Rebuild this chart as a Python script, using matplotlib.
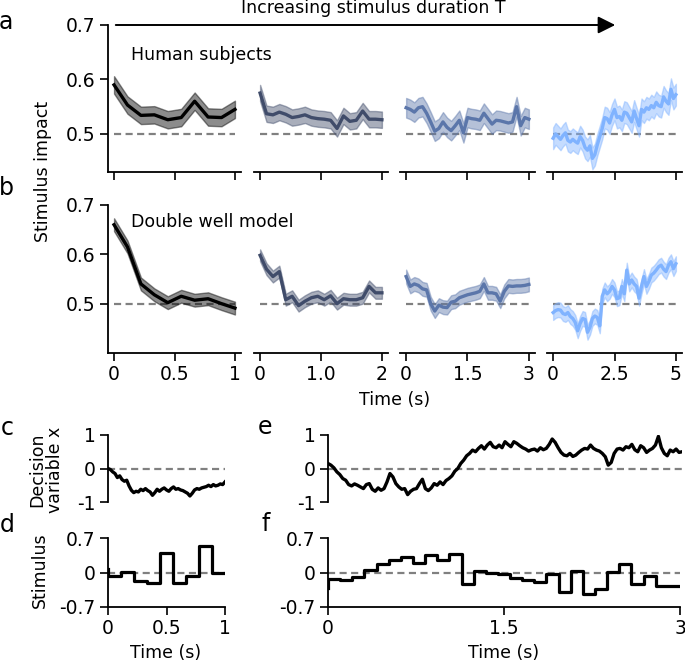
import numpy as np
import matplotlib.pyplot as plt

# stimulus durations T (s) for the four columns
durations = [1, 2, 3, 5]
line_colors = ['#000000', '#404c6a', '#5b76aa', '#80b3ff']
xtick_labels = [['0', '0.5', '1'], ['0', '1.0', '2'], ['0', '1.5', '3'], ['0', '2.5', '5']]

# panel a: human subjects, stimulus impact
human_T1 = [0.590, 0.553, 0.534, 0.535, 0.526, 0.530, 0.560, 0.531, 0.530, 0.545]
human_T2 = [0.575, 0.537, 0.535, 0.540, 0.536, 0.530, 0.532, 0.535, 0.530, 0.528,
            0.527, 0.525, 0.510, 0.533, 0.523, 0.525, 0.542, 0.527, 0.527, 0.526]
human_T3 = [0.548, 0.545, 0.540, 0.548, 0.550, 0.538, 0.522, 0.505, 0.510, 0.522,
            0.512, 0.506, 0.515, 0.525, 0.502, 0.530, 0.528, 0.527, 0.525, 0.538,
            0.528, 0.518, 0.525, 0.524, 0.522, 0.520, 0.522, 0.550, 0.515, 0.530, 0.527]
human_T5 = [0.492, 0.500, 0.495, 0.490, 0.497, 0.502, 0.488, 0.485, 0.490, 0.486,
            0.483, 0.495, 0.488, 0.475, 0.470, 0.478, 0.455, 0.462, 0.480, 0.495,
            0.510, 0.530, 0.528, 0.520, 0.535, 0.545, 0.530, 0.532, 0.525, 0.540,
            0.538, 0.530, 0.522, 0.542, 0.528, 0.515, 0.545, 0.540, 0.548, 0.545,
            0.552, 0.548, 0.558, 0.552, 0.550, 0.568, 0.560, 0.555, 0.582, 0.565, 0.572]
human_sem = [0.016, 0.015, 0.018, 0.020]

# panel b: double well model
model_T1 = [0.660, 0.615, 0.540, 0.518, 0.502, 0.515, 0.507, 0.510, 0.500, 0.491]
model_T2 = [0.598, 0.570, 0.555, 0.565, 0.508, 0.515, 0.496, 0.505, 0.512, 0.515,
            0.508, 0.516, 0.500, 0.510, 0.508, 0.508, 0.512, 0.535, 0.522, 0.522]
model_T3 = [0.555, 0.535, 0.540, 0.537, 0.530, 0.528, 0.500, 0.485, 0.497, 0.493,
            0.492, 0.503, 0.505, 0.512, 0.515, 0.518, 0.520, 0.522, 0.525, 0.540,
            0.522, 0.522, 0.520, 0.505, 0.525, 0.536, 0.535, 0.536, 0.536, 0.537, 0.539]
model_T5 = [0.482, 0.486, 0.488, 0.487, 0.480, 0.478, 0.482, 0.474, 0.470, 0.462,
            0.445, 0.460, 0.470, 0.468, 0.442, 0.452, 0.470, 0.475, 0.472, 0.455,
            0.515, 0.528, 0.520, 0.525, 0.535, 0.528, 0.510, 0.512, 0.535, 0.520,
            0.568, 0.540, 0.548, 0.540, 0.535, 0.511, 0.535, 0.555, 0.535, 0.545,
            0.558, 0.562, 0.568, 0.575, 0.578, 0.570, 0.565, 0.578, 0.585, 0.571, 0.581]
model_sem = [0.013, 0.012, 0.014, 0.015]

# panels c, e: decision variable trajectories
dv_short = [0.00, -0.03, -0.10, -0.15, -0.27, -0.22, -0.33, -0.38, -0.35, -0.52,
            -0.65, -0.72, -0.68, -0.70, -0.62, -0.66, -0.60, -0.66, -0.70, -0.80,
            -0.72, -0.62, -0.68, -0.62, -0.58, -0.64, -0.68, -0.60, -0.55, -0.62,
            -0.60, -0.64, -0.66, -0.70, -0.74, -0.82, -0.74, -0.64, -0.60, -0.62,
            -0.58, -0.56, -0.54, -0.50, -0.54, -0.48, -0.52, -0.50, -0.46, -0.48, -0.40]
dv_long = [0.15, 0.10, 0.02, -0.10, -0.18, -0.30, -0.35, -0.48, -0.52, -0.46,
           -0.50, -0.55, -0.60, -0.48, -0.45, -0.62, -0.68, -0.58, -0.65, -0.60,
           -0.40, -0.15, -0.25, -0.45, -0.55, -0.62, -0.60, -0.78, -0.68, -0.62,
           -0.60, -0.45, -0.32, -0.60, -0.66, -0.58, -0.45, -0.50, -0.40, -0.48,
           -0.36, -0.30, -0.22, -0.08, 0.00, 0.15, 0.25, 0.38, 0.45, 0.55,
           0.50, 0.60, 0.68, 0.58, 0.70, 0.78, 0.65, 0.62, 0.70, 0.62,
           0.80, 0.72, 0.65, 0.80, 0.75, 0.68, 0.62, 0.58, 0.52, 0.56,
           0.58, 0.52, 0.62, 0.56, 0.60, 0.72, 0.88, 0.78, 0.62, 0.48,
           0.40, 0.38, 0.45, 0.36, 0.40, 0.48, 0.55, 0.60, 0.58, 0.70,
           0.60, 0.55, 0.52, 0.45, 0.35, 0.10, 0.18, 0.45, 0.58, 0.60,
           0.55, 0.65, 0.62, 0.72, 0.56, 0.50, 0.68, 0.62, 0.48, 0.55,
           0.60, 0.70, 0.96, 0.62, 0.45, 0.38, 0.55, 0.50, 0.58, 0.48, 0.50]

# panels d, f: piecewise constant stimulus (first value = level just before t=0)
stim_short = [0.07, -0.08, 0.01, -0.17, -0.21, 0.39, -0.22, -0.08, 0.54, -0.01]
stim_long = [-0.32, -0.13, -0.16, -0.10, 0.05, 0.18, 0.25, 0.32, 0.20, 0.36, 0.25,
             0.37, -0.23, 0.04, -0.01, -0.03, -0.12, -0.15, -0.19, -0.04, -0.39,
             0.04, -0.43, -0.34, 0.01, 0.18, -0.23, -0.08, -0.27, -0.27]

W, H = 685, 662
fig = plt.figure(figsize=(W / 100, H / 100), dpi=100)
plt.rcParams['font.size'] = 12.5


def px_box(x0, y0, x1, y1):
    return [x0 / W, 1 - y1 / H, (x1 - x0) / W, (y1 - y0) / H]


col_px = [(108, 241), (254, 388), (400, 535), (547, 682)]


def impact_row(series, sems, y0, y1, ylo, show_labels):
    axes = []
    for i, T in enumerate(durations):
        ax = fig.add_axes(px_box(col_px[i][0], y0, col_px[i][1], y1))
        v = np.array(series[i])
        t = np.linspace(0, T, len(v))
        ax.plot([0, T], [0.5, 0.5], color='#808080', lw=1.6, ls=(0, (3.2, 2)), zorder=1)
        ax.fill_between(t, v - sems[i], v + sems[i], color=line_colors[i], alpha=0.45, lw=1, zorder=2)
        ax.plot(t, v, color=line_colors[i], lw=2.4, zorder=3)
        ax.set_xlim(-0.05 * T, 1.05 * T)
        ax.set_ylim(ylo, 0.7)
        ax.set_xticks([0, T / 2, T])
        if show_labels:
            ax.set_xticklabels(xtick_labels[i], fontsize=13.5)
        else:
            ax.set_xticklabels([])
        for s in ['top', 'right']:
            ax.spines[s].set_visible(False)
        if i == 0:
            ax.set_yticks([0.5, 0.6, 0.7])
            ax.set_yticklabels(['0.5', '0.6', '0.7'], fontsize=13.5)
        else:
            ax.spines['left'].set_visible(False)
            ax.set_yticks([])
        ax.tick_params(length=5.5, width=1.2)
        for s in ax.spines.values():
            s.set_linewidth(1.3)
        axes.append(ax)
    return axes


row_a = impact_row([human_T1, human_T2, human_T3, human_T5], human_sem, 25, 172, 0.43, False)
row_b = impact_row([model_T1, model_T2, model_T3, model_T5], model_sem, 205, 353, 0.40, True)
fig.text(131 / W, 1 - 55 / H, 'Human subjects', va='center', ha='left')
fig.text(131 / W, 1 - 222 / H, 'Double well model', va='center', ha='left')
fig.text(395 / W, 1 - 400 / H, 'Time (s)', ha='center', va='center')
fig.text(43 / W, 1 - 171 / H, 'Stimulus impact', rotation=90, ha='center', va='center')

# arrow over the top row
fig.text(373 / W, 1 - 13 / H, 'Increasing stimulus duration T', ha='center', va='baseline')
fig.add_artist(plt.matplotlib.patches.FancyArrowPatch(
    (113 / W, 1 - 25 / H), (618 / W, 1 - 25 / H), transform=fig.transFigure,
    arrowstyle='-|>', mutation_scale=26, lw=1.4, color='k'))


def trace_axes(box, T, y, ylim, yticks, yticklabels, step, xlabels):
    ax = fig.add_axes(px_box(*box))
    ax.plot([0, T], [0, 0], color='#808080', lw=1.6, ls=(0, (3.2, 2)), zorder=1)
    if step:
        n = len(y) - 1
        t = np.concatenate([[0], np.linspace(0, T, n + 1)[:-1]])
        ax.plot(np.append(t, T), np.append(y, y[-1]), drawstyle='steps-post', color='k', lw=2.3, zorder=3)
    else:
        ax.plot(np.linspace(0, T, len(y)), y, color='k', lw=2.4, zorder=3)
    ax.set_xlim(0, T)
    ax.set_ylim(*ylim)
    ax.set_yticks(yticks)
    ax.set_yticklabels(yticklabels, fontsize=13.5)
    for s in ['top', 'right']:
        ax.spines[s].set_visible(False)
    if xlabels is None:
        ax.spines['bottom'].set_visible(False)
        ax.set_xticks([])
    else:
        ax.set_xticks([0, T / 2, T])
        ax.set_xticklabels(xlabels, fontsize=13.5)
    ax.tick_params(length=5.5, width=1.2)
    for s in ax.spines.values():
        s.set_linewidth(1.3)
    return ax


trace_axes((108, 435, 225, 502), 1, dv_short, (-1, 1), [-1, 0, 1], ['-1', '0', '1'], False, None)
trace_axes((328, 435, 682, 502), 3, dv_long, (-1, 1), [-1, 0, 1], ['-1', '0', '1'], False, None)
trace_axes((108, 538, 225, 607), 1, stim_short, (-0.7, 0.7), [-0.7, 0, 0.7], ['-0.7', '0', '0.7'], True, ['0', '0.5', '1'])
trace_axes((328, 538, 680, 607), 3, stim_long, (-0.7, 0.7), [-0.7, 0, 0.7], ['-0.7', '0', '0.7'], True, ['0', '1.5', '3'])

fig.text(46 / W, 1 - 470 / H, 'Decision\nvariable x', rotation=90, ha='center', va='center', linespacing=1.0)
fig.text(40 / W, 1 - 570 / H, 'Stimulus', rotation=90, ha='center', va='center')
fig.text(166 / W, 1 - 653 / H, 'Time (s)', ha='center', va='center')
fig.text(504 / W, 1 - 653 / H, 'Time (s)', ha='center', va='center')

# panel letters
for lab, x, y in [('a', 6, 22), ('b', 6, 188), ('c', 7, 428), ('d', 7, 525), ('e', 265, 427), ('f', 266, 524)]:
    fig.text(x / W, 1 - y / H, lab, fontsize=17, ha='center', va='center')

fig.savefig('out.png', dpi=100)
